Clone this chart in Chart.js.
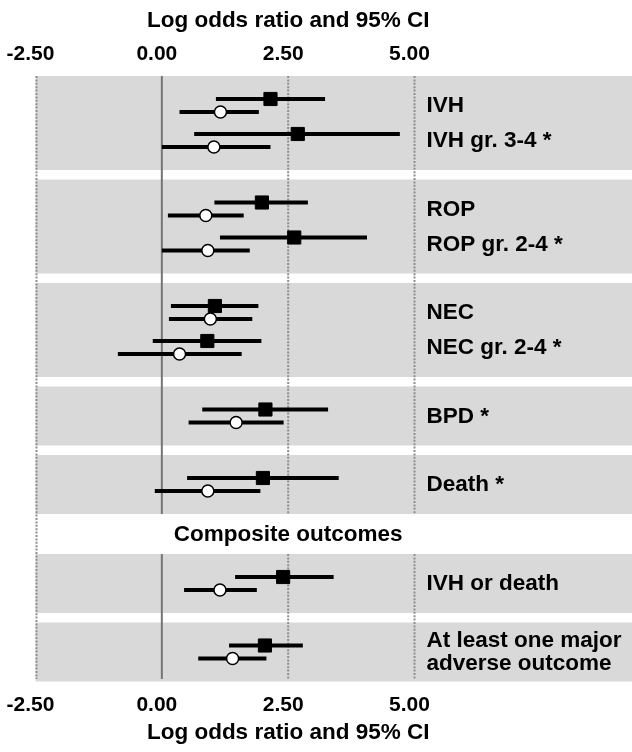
<!DOCTYPE html>
<html>
<head>
<meta charset="utf-8">
<script src="https://cdn.jsdelivr.net/npm/chart.js@4.4.1/dist/chart.umd.min.js"></script>
<style>
  html, body { margin: 0; padding: 0; background: #fff; overflow: hidden; }
  #wrap { width: 632px; height: 752px; position: relative; }
</style>
</head>
<body>
<div id="wrap"><canvas id="forest"></canvas></div>
<script>
// outcome rows, top to bottom
const outcomes = ['IVH', 'IVH gr. 3-4 *', 'ROP', 'ROP gr. 2-4 *', 'NEC', 'NEC gr. 2-4 *',
  'BPD *', 'Death *', 'IVH or death', ['At least one major', 'adverse outcome']];
// how many outcomes share one grey band
const groupSizes = [2, 2, 2, 1, 1, 1, 1];
const headingText = 'Composite outcomes';
const headingBeforeGroup = 5;

// filled squares
const squareEst = [2.15, 2.69, 1.98, 2.62, 1.05, 0.90, 2.05, 2.00, 2.40, 2.04];
const squareLo  = [1.07, 0.64, 1.04, 1.15, 0.18, -0.18, 0.80, 0.50, 1.45, 1.33];
const squareHi  = [3.23, 4.71, 2.89, 4.06, 1.91, 1.97, 3.29, 3.50, 3.40, 2.79];
// open circles
const circleEst = [1.16, 1.03, 0.87, 0.91, 0.96, 0.35, 1.47, 0.91, 1.15, 1.40];
const circleLo  = [0.35, 0.00, 0.12, 0.00, 0.14, -0.87, 0.53, -0.14, 0.44, 0.72];
const circleHi  = [1.92, 2.15, 1.62, 1.74, 1.79, 1.58, 2.41, 1.95, 1.88, 2.07];

const tickValues = [-2.5, 0, 2.5, 5];
const axisTitle = 'Log odds ratio and 95% CI';

const FONT = '"Liberation Sans", Arial, Helvetica, sans-serif';

// vertical layout (y units ~ px)
const bandPad = 12, slot = 35, bandGap = 9.5, headingH = 40;
const bands = [];
const rowY = [];
let heading = null;
let cur = 0;
groupSizes.forEach((n, g) => {
  if (g === headingBeforeGroup) {
    heading = { top: cur, bottom: cur + headingH };
    cur += headingH;
  } else if (g > 0) {
    cur += bandGap;
  }
  const top = cur;
  for (let i = 0; i < n; i++) {
    rowY.push(top + bandPad + slot / 2 + slot * i);
  }
  cur = top + bandPad * 2 + slot * n;
  bands.push({ top: top, bottom: cur });
});
const yMax = Math.ceil(cur);

const ciData = (lo, hi, off) => {
  const pts = [];
  lo.forEach((l, i) => {
    pts.push({ x: l, y: rowY[i] + off });
    pts.push({ x: hi[i], y: rowY[i] + off });
    pts.push({ x: null, y: null });
  });
  return pts;
};
const estData = (est, off) => est.map((v, i) => ({ x: v, y: rowY[i] + off }));

const forestDecor = {
  id: 'forestDecor',
  beforeDatasetsDraw(chart) {
    const { ctx, chartArea, scales: { x, y } } = chart;
    ctx.save();
    ctx.fillStyle = '#d9d9d9';
    const left = x.getPixelForValue(tickValues[0]);
    bands.forEach(b => {
      const t = y.getPixelForValue(b.top), bt = y.getPixelForValue(b.bottom);
      ctx.fillRect(left, t, chart.width - left, bt - t);
    });
    const top = y.getPixelForValue(0);
    const bottom = y.getPixelForValue(yMax) - 3;
    const hTop = y.getPixelForValue(heading.top);
    const hBot = y.getPixelForValue(heading.bottom);
    tickValues.forEach(v => {
      let px = x.getPixelForValue(v);
      ctx.beginPath();
      if (v === 0) {
        ctx.strokeStyle = '#757575';
        ctx.lineWidth = 2;
        ctx.setLineDash([]);
      } else {
        ctx.strokeStyle = '#8e8e8e';
        ctx.lineWidth = 2;
        ctx.setLineDash([2, 1.4]);
      }
      if (v === tickValues[0]) {
        px += 1;
        ctx.moveTo(px, top); ctx.lineTo(px, bottom);
      } else {
        ctx.moveTo(px, top); ctx.lineTo(px, hTop);
        ctx.moveTo(px, hBot); ctx.lineTo(px, bottom);
      }
      ctx.stroke();
    });
    ctx.restore();
  },
  afterDatasetsDraw(chart) {
    const { ctx, scales: { x, y } } = chart;
    ctx.save();
    ctx.fillStyle = '#000';
    ctx.font = 'bold 22.5px ' + FONT;
    ctx.textBaseline = 'middle';
    ctx.textAlign = 'left';
    const lx = x.getPixelForValue(tickValues[tickValues.length - 1]) + 12;
    outcomes.forEach((lab, i) => {
      const cy = y.getPixelForValue(rowY[i]);
      if (Array.isArray(lab)) {
        lab.forEach((line, j) => ctx.fillText(line, lx, cy + (j - (lab.length - 1) / 2) * 23));
      } else {
        ctx.fillText(lab, lx, cy + 0.5);
      }
    });
    ctx.textAlign = 'center';
    const cx = x.getPixelForValue(2.5);
    ctx.fillText(headingText, cx, y.getPixelForValue((heading.top + heading.bottom) / 2) + 1);
    ctx.fillText(axisTitle, cx, 20.5);
    ctx.fillText(axisTitle, cx, 733);
    ctx.restore();
  }
};

const xMin = -2.5, xMax = 9.1;
const tickFont = { family: FONT, size: 21, weight: 'bold' };
const xAxis = (pos, pad, h) => ({
  type: 'linear',
  position: pos,
  min: xMin,
  max: xMax,
  grid: { display: false, drawTicks: false },
  border: { display: false },
  afterBuildTicks: s => { s.ticks = tickValues.map(v => ({ value: v })); },
  afterFit: s => { s.height = h; s.paddingLeft = 0; s.paddingRight = 0; },
  ticks: {
    font: tickFont,
    color: '#000',
    padding: pad,
    labelOffset: -5,
    maxRotation: 0,
    callback: v => v.toFixed(2)
  }
});

new Chart(document.getElementById('forest'), {
  type: 'scatter',
  data: {
    datasets: [
      {
        label: 'circle',
        data: estData(circleEst, 6.5),
        pointStyle: 'circle',
        pointRadius: 6,
        pointBackgroundColor: '#fff',
        pointBorderColor: '#000',
        pointBorderWidth: 1.5
      },
      {
        label: 'square',
        data: estData(squareEst, -6.5),
        pointStyle: 'rect',
        pointRadius: 9.3,
        pointBackgroundColor: '#000',
        pointBorderColor: '#000',
        pointBorderWidth: 1
      },
      {
        label: 'circle CI',
        data: ciData(circleLo, circleHi, 6.5),
        showLine: true,
        spanGaps: false,
        pointRadius: 0,
        borderColor: '#000',
        borderWidth: 4,
        borderCapStyle: 'butt'
      },
      {
        label: 'square CI',
        data: ciData(squareLo, squareHi, -6.5),
        showLine: true,
        spanGaps: false,
        pointRadius: 0,
        borderColor: '#000',
        borderWidth: 4,
        borderCapStyle: 'butt'
      }
    ]
  },
  options: {
    responsive: true,
    maintainAspectRatio: false,
    animation: false,
    layout: { padding: { top: 0, bottom: 0, left: 35.5, right: 0 } },
    plugins: { legend: { display: false }, tooltip: { enabled: false } },
    scales: {
      x: xAxis('bottom', 11, 70),
      x2: xAxis('top', 9, 76),
      y: { type: 'linear', display: false, min: 0, max: yMax, reverse: true }
    }
  },
  plugins: [forestDecor]
});
</script>
</body>
</html>
